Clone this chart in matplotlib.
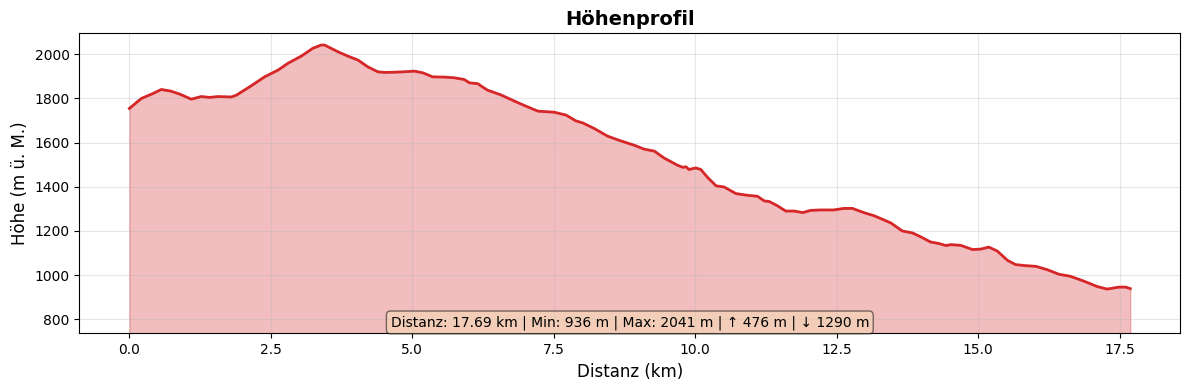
import matplotlib
matplotlib.use('Agg')
from matplotlib import pyplot as plt

# Profil-Daten
dist_km = [0.0, 0.21, 0.42, 0.565, 0.74, 0.89, 1.095, 1.27, 1.42, 1.565, 1.80, 1.89,
           2.15, 2.39, 2.63, 2.80, 3.04, 3.24, 3.39, 3.45, 3.69, 3.86, 4.04, 4.21,
           4.39, 4.51, 4.68, 4.86, 5.04, 5.19, 5.36, 5.57, 5.74, 5.92, 6.01, 6.16,
           6.22, 6.33, 6.57, 6.86, 7.04, 7.22, 7.51, 7.72, 7.89, 8.01, 8.22, 8.45,
           8.69, 8.92, 9.10, 9.28, 9.45, 9.69, 9.78, 9.84, 9.89, 10.01, 10.10, 10.22,
           10.37, 10.51, 10.72, 10.93, 11.10, 11.22, 11.31, 11.46, 11.60, 11.75, 11.90,
           12.04, 12.22, 12.45, 12.63, 12.78, 12.98, 13.16, 13.28, 13.46, 13.66, 13.84,
           13.99, 14.16, 14.31, 14.43, 14.52, 14.69, 14.90, 15.05, 15.19, 15.34, 15.52,
           15.66, 15.84, 16.02, 16.22, 16.43, 16.63, 16.87, 17.10, 17.28, 17.49, 17.61,
           17.69]
elev_m = [1754, 1799, 1822, 1840, 1832, 1819, 1796, 1808, 1804, 1808, 1806, 1814,
          1856, 1897, 1928, 1958, 1991, 2026, 2041, 2041, 2010, 1991, 1973, 1943,
          1920, 1917, 1918, 1920, 1923, 1915, 1897, 1896, 1893, 1885, 1870, 1866,
          1855, 1837, 1815, 1781, 1761, 1742, 1737, 1724, 1698, 1689, 1663, 1629,
          1607, 1588, 1570, 1561, 1530, 1497, 1488, 1490, 1478, 1485, 1478, 1442,
          1404, 1399, 1369, 1361, 1357, 1336, 1333, 1313, 1290, 1290, 1283,
          1293, 1295, 1295, 1302, 1302, 1283, 1269, 1256, 1236, 1200, 1191,
          1173, 1150, 1143, 1134, 1138, 1135, 1116, 1118, 1127, 1109, 1067,
          1048, 1043, 1040, 1025, 1004, 995, 973, 949, 937, 946, 946,
          939]

stats = 'Distanz: 17.69 km | Min: 936 m | Max: 2041 m | ↑ 476 m | ↓ 1290 m'

fig, ax = plt.subplots(figsize=(11.89, 3.9), dpi=100)
bottom = min(elev_m) - 200
ax.fill_between(dist_km, elev_m, bottom, color='tab:red', alpha=0.3)
ax.plot(dist_km, elev_m, color='tab:red', linewidth=2)
ax.set_ylim(bottom, max(elev_m) + 53)
ax.set_xlabel('Distanz (km)', fontsize=12)
ax.set_ylabel('Höhe (m ü. M.)', fontsize=12)
ax.set_title('Höhenprofil', fontsize=14, fontweight='bold')
ax.grid(True, alpha=0.3)
ax.text(0.5, 0.012, stats, transform=ax.transAxes, ha='center', va='bottom', fontsize=10,
        bbox=dict(boxstyle='round', facecolor='wheat', alpha=0.5))
fig.subplots_adjust(left=0.0667, right=0.9927, top=0.9146, bottom=0.1454)
plt.savefig('out.png')
